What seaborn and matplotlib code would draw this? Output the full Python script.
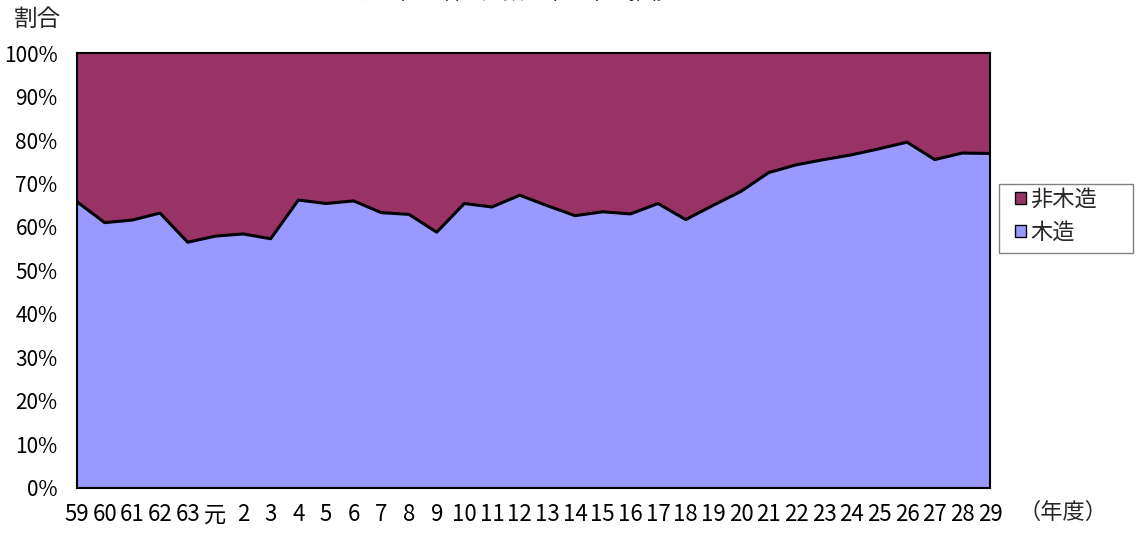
import matplotlib
matplotlib.use("Agg")
import matplotlib.pyplot as plt
import seaborn as sns
import pandas as pd
from matplotlib.patches import Patch, Rectangle

# 年度ラベルと木造の割合（%）
years = ["59", "60", "61", "62", "63", "元", "2", "3", "4", "5", "6", "7", "8", "9",
         "10", "11", "12", "13", "14", "15", "16", "17", "18", "19", "20", "21",
         "22", "23", "24", "25", "26", "27", "28", "29"]
wood = [65.8, 61.0, 61.6, 63.2, 56.5, 57.9, 58.4, 57.3, 66.2, 65.4, 66.0, 63.3,
        62.9, 58.8, 65.4, 64.6, 67.3, 64.9, 62.6, 63.5, 63.0, 65.4, 61.7, 65.0,
        68.2, 72.5, 74.3, 75.5, 76.6, 78.0, 79.5, 75.5, 77.0, 76.9]
non_wood = [100 - v for v in wood]

df = pd.DataFrame({"idx": range(len(years)), "year": years,
                   "wood": wood, "non_wood": non_wood})

sns.set_theme(style="white")
plt.rcParams["font.family"] = ["Noto Sans CJK JP", "DejaVu Sans"]

c_wood = "#9999FF"
c_non = "#993366"

fig = plt.figure(figsize=(11.36, 5.36), dpi=100)
ax = fig.add_axes([0.0678, 0.0896, 0.8037, 0.8115])

ax.fill_between(df["idx"], 0, df["wood"], color=c_wood, linewidth=0)
ax.fill_between(df["idx"], df["wood"], df["wood"] + df["non_wood"], color=c_non, linewidth=0)
sns.lineplot(data=df, x="idx", y="wood", ax=ax, color="black", linewidth=2.2)

ax.set_xlim(0, len(years) - 1)
ax.set_ylim(0, 100)
ax.set_yticks(range(0, 101, 10))
ax.set_yticklabels([f"{v}%" for v in range(0, 101, 10)])
ax.set_xticks(df["idx"])
ax.set_xticklabels(years)
ax.set_xlabel("")
ax.set_ylabel("")
ax.tick_params(axis="both", direction="in", length=6, width=1, color="#666666",
               labelsize=16, labelcolor="black")
ax.tick_params(axis="y", pad=14, labelsize=15)
ax.tick_params(axis="x", pad=11)
for s in ax.spines.values():
    s.set_color("black")
    s.set_linewidth(1.5)

fig.text(14 / 1136, 1 - 19 / 536, "割合", fontsize=17, va="center", ha="left")
fig.text(1018 / 1136, 1 - 512 / 536, "（年度）", fontsize=16, va="center", ha="left")
fig.text(0.452, 1 - 3.5 / 536, "新設住宅着工戸数の木造率の推移", fontsize=15,
         va="bottom", ha="center")

# 凡例の枠
fig.patches.append(Rectangle((999 / 1136, 1 - 253 / 536), 134 / 1136, 69 / 536,
                             transform=fig.transFigure, facecolor="white",
                             edgecolor="#808080", linewidth=1))
handles = [Patch(facecolor=c_non, edgecolor="black", label="非木造"),
           Patch(facecolor=c_wood, edgecolor="black", label="木造")]
fig.legend(handles=handles, loc="upper left", bbox_to_anchor=(1015 / 1136, 1 - 188 / 536),
           bbox_transform=fig.transFigure, fontsize=16, frameon=False,
           handlelength=0.5, handleheight=0.5, handletextpad=0.2, borderpad=0,
           labelspacing=0.45, borderaxespad=0)

fig.savefig("out.png", dpi=100)
